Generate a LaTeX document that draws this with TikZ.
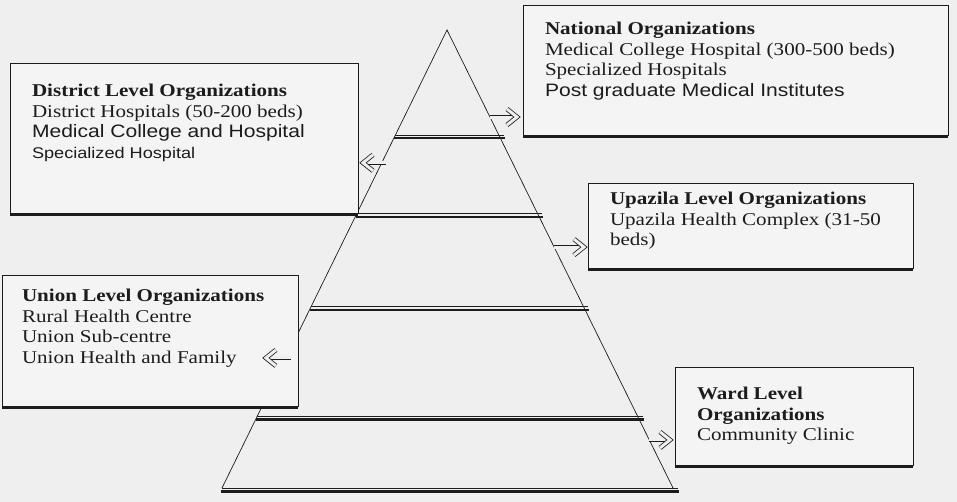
\documentclass[tikz,border=0pt]{standalone}
\usepackage{fontspec}
\setmainfont{Liberation Serif}[FakeStretch=1.17]
\setsansfont{Liberation Sans}[FakeStretch=1.17]
\usepackage{xcolor}
\usepackage{tikz}
\usetikzlibrary{calc}
\definecolor{paperGray}{HTML}{EFEFEF}
\definecolor{boxGray}{HTML}{F4F4F4}
\definecolor{inkGray}{HTML}{1C1C1C}

\tikzset{
  orgbox/.style={draw=inkGray, fill=boxGray, line width=0.7pt, inner sep=0pt, anchor=north west},
  orgtext/.style={anchor=north west, inner sep=0pt, align=left, text=inkGray,
    font=\fontsize{18}{20.5}\selectfont},
  boxshadow/.style={draw=inkGray, line width=2.2pt},
  pyramidline/.style={draw=inkGray, line width=0.7pt},
  levelarrow/.style={draw=inkGray, double=paperGray, double distance=3pt, line width=0.8pt},
  levelhead/.style={levelarrow, line join=miter, line cap=butt},
}

\begin{document}
\begin{tikzpicture}[x=1pt,y=-1pt,outer sep=0pt]
\fill[paperGray] (0,0) rectangle (957,502);
\useasboundingbox (0,0) rectangle (957,502);

% pyramid with its five levels
\coordinate (apex) at (447,30);
\coordinate (baseL) at (222,488);
\coordinate (baseR) at (673,488);
\draw[pyramidline] (baseL) -- (apex) -- (baseR);
\foreach \t in {0.229,0.400,0.603,0.843,1}{
  \draw[pyramidline] ($(apex)!\t!(baseL)$) -- ($(apex)!\t!(baseR)+(5,0)$);
  \draw[boxshadow] ($(apex)!\t!(baseL)+(-1,3.5)$) -- ($(apex)!\t!(baseR)+(6,3.5)$);
}

% level boxes
\node[orgbox, minimum width=425pt, minimum height=130pt] (nationalBox) at (523,5) {};
\node[orgbox, minimum width=348pt, minimum height=150pt] (districtBox) at (10,63) {};
\node[orgbox, minimum width=325pt, minimum height=85pt] (upazilaBox) at (588,183) {};
\node[orgbox, minimum width=296pt, minimum height=131pt] (unionBox) at (2,275) {};
\node[orgbox, minimum width=238pt, minimum height=98pt] (wardBox) at (675,367) {};
\foreach \b in {nationalBox,districtBox,upazilaBox,unionBox,wardBox}
  \draw[boxshadow] ([yshift=-2pt]\b.south west) -- ([yshift=-2pt]\b.south east);

\node[orgtext] (national) at (545,22.5) {\textbf{National Organizations}\\
Medical College Hospital (300-500 beds)\\
Specialized Hospitals\\
{\sffamily Post graduate Medical Institutes}};

\node[orgtext] (district) at (32,84.5) {\textbf{District Level Organizations}\\
District Hospitals (50-200 beds)\\
{\sffamily Medical College and Hospital}\\
{\sffamily\fontsize{15.5}{20.5}\selectfont Specialized Hospital}};

\node[orgtext] (upazila) at (610,192.5) {\textbf{Upazila Level Organizations}\\
Upazila Health Complex (31-50\\
beds)};

\node[orgtext] (union) at (22,289.5) {\textbf{Union Level Organizations}\\
Rural Health Centre\\
Union Sub-centre\\
Union Health and Family};

\node[orgtext] (ward) at (697,387.5) {\textbf{Ward Level}\\
\textbf{Organizations}\\
Community Clinic};

% double arrows from the pyramid sides
\coordinate (natTail) at ($(apex)!0.190!(baseR)$);
\coordinate (natTip) at ($(natTail -| nationalBox.west)+(-6,0)$);
\coordinate (disTail) at ($(apex)!0.290!(baseL)+(4,0)$);
\coordinate (disTip) at ($(disTail -| districtBox.east)+(5,0)$);
\coordinate (upaTail) at ($(apex)!0.474!(baseR)$);
\coordinate (upaTip) at ($(upaTail -| upazilaBox.west)+(-4,0)$);
\coordinate (uniTail) at ($(apex)!0.716!(baseL)+(5,0)$);
\coordinate (uniTip) at ($(uniTail)+(-25,0)$);
\coordinate (warTail) at ($(apex)!0.895!(baseR)$);
\coordinate (warTip) at ($(warTail -| wardBox.west)+(-5,0)$);
\foreach \tl/\tp/\d in {natTail/natTip/1,disTail/disTip/-1,upaTail/upaTip/1,
                         uniTail/uniTip/-1,warTail/warTip/1}{
  \draw[levelarrow, shorten >=5pt] (\tl) -- (\tp);
  \draw[levelhead] ($(\tp)+(-10*\d,-8)$) -- (\tp) -- ($(\tp)+(-10*\d,8)$);
}
\end{tikzpicture}
\end{document}
